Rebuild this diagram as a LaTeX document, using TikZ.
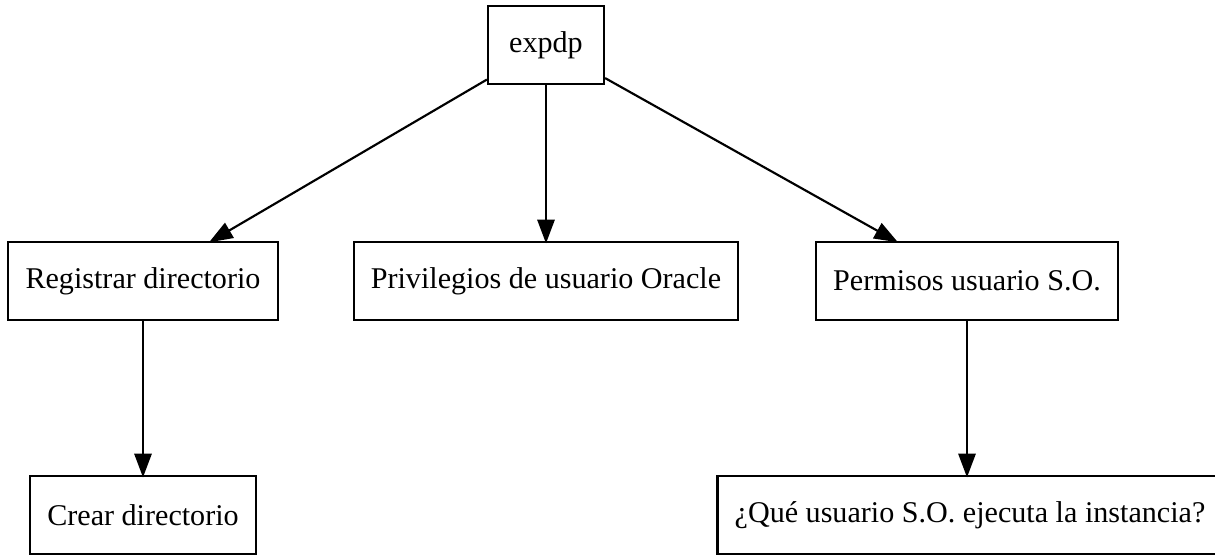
\documentclass[tikz,border=0pt]{standalone}
\usepackage{fontspec}
\setmainfont{Liberation Serif}
\usetikzlibrary{arrows.meta}
\tikzset{
>={Triangle[length=11pt,width=8pt]}, % solid arrow heads
box/.style={draw, rectangle, line width=1pt, minimum width=54pt, minimum height=36pt, inner xsep=8pt, font=\fontsize{14}{17}\selectfont}, % sets the look of each box
}

\begin{document}
\begin{tikzpicture}[x=0.465pt, y=-0.465pt, line width=1pt]
\useasboundingbox (0,0) rectangle (1215,555);
\node[box] (expdp) at (546,45) {expdp};
\node[box] (reg) at (143,281) {Registrar directorio};
\node[box] (priv) at (546,281) {Privilegios de usuario Oracle};
\node[box] (perm) at (967,281) {Permisos usuario S.O.};
\node[box] (crear) at (143,515) {Crear directorio};
\node[box] (que) at (970,515) {¿Qué usuario S.O. ejecuta la instancia?};
\draw[->, shorten >=-1pt]
(expdp) edge (reg)
(expdp) edge (priv)
(expdp) edge (perm)
(reg) edge (crear)
(perm) edge (perm |- que.north)
;
\end{tikzpicture}
\end{document}
